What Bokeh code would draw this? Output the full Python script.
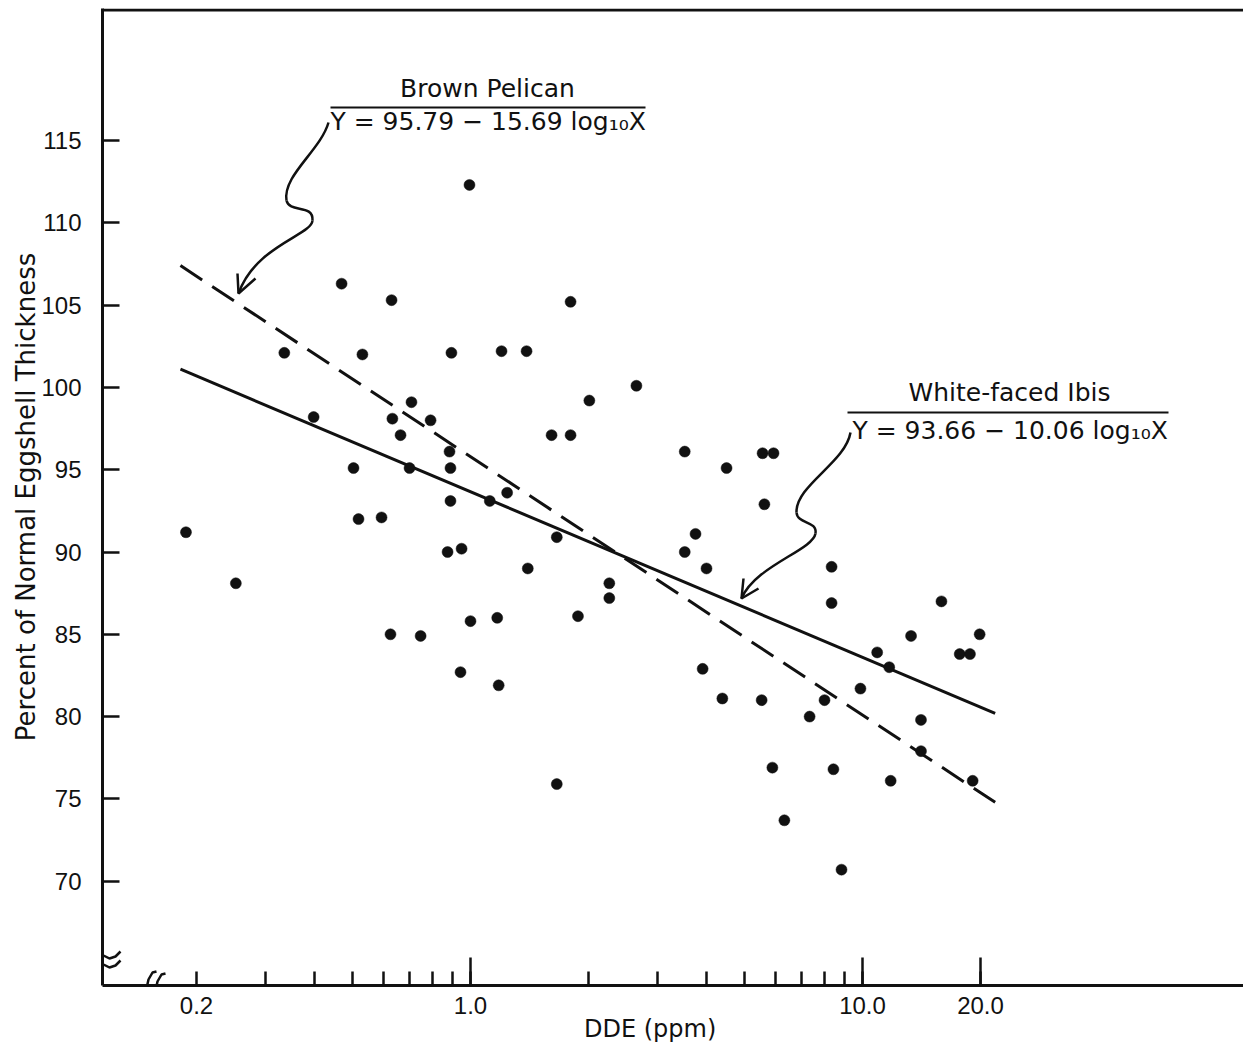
import numpy as np
from bokeh.plotting import figure
from bokeh.models import FixedTicker, Span, Label, PolyAnnotation, Range1d
from bokeh.embed import file_html
from bokeh.resources import INLINE

# ---------------- data ----------------
dde_ppm = [0.188, 0.252, 0.335, 0.398, 0.469, 0.503, 0.518, 0.530, 0.593, 0.625,
           0.629, 0.632, 0.663, 0.707, 0.699, 0.746, 0.791, 0.874, 0.884, 0.894,
           0.889, 0.889, 0.949, 0.943, 0.994, 1.00, 1.12, 1.17, 1.18, 1.20,
           1.24, 1.39, 1.40, 1.61, 1.66, 1.66, 1.80, 1.80, 1.88, 2.01,
           2.26, 2.26, 2.65, 3.52, 3.52, 3.75, 3.91, 4.00, 4.39, 4.50,
           5.53, 5.56, 5.93, 5.62, 5.89, 6.32, 7.33, 8.00, 8.34, 8.34,
           8.43, 8.84, 9.88, 10.9, 11.7, 11.8, 13.3, 14.1, 14.1, 15.9,
           17.7, 18.8, 19.1, 19.9]
eggshell_pct = [91.2, 88.1, 102.1, 98.2, 106.3, 95.1, 92.0, 102.0, 92.1, 85.0,
                105.3, 98.1, 97.1, 99.1, 95.1, 84.9, 98.0, 90.0, 96.1, 102.1,
                95.1, 93.1, 90.2, 82.7, 112.3, 85.8, 93.1, 86.0, 81.9, 102.2,
                93.6, 102.2, 89.0, 97.1, 90.9, 75.9, 105.2, 97.1, 86.1, 99.2,
                88.1, 87.2, 100.1, 96.1, 90.0, 91.1, 82.9, 89.0, 81.1, 95.1,
                81.0, 96.0, 96.0, 92.9, 76.9, 73.7, 80.0, 81.0, 89.1, 86.9,
                76.8, 70.7, 81.7, 83.9, 83.0, 76.1, 84.9, 79.8, 77.9, 87.0,
                83.8, 83.8, 76.1, 85.0]

# regression equations printed on the chart: Y = a - b log10 X
pelican_a, pelican_b = 95.79, 15.69
ibis_a, ibis_b = 93.66, 10.06
fit_x = [0.182, 21.8]

x_ticks = [0.2, 1.0, 10.0, 20.0]
x_tick_labels = ["0.2", "1.0", "10.0", "20.0"]
x_minor_ticks = [0.3, 0.4, 0.5, 0.6, 0.7, 0.8, 0.9, 2, 3, 4, 5, 6, 7, 8, 9]
x_long_ticks = [1.0, 10.0, 20.0]
y_ticks = [70, 75, 80, 85, 90, 95, 100, 105, 110, 115]

INK = "#111111"
TXT_FONT = "DejaVu Sans"
NUM_FONT = "Liberation Sans"

# calibration of the page (page pixels -> data), used only for decorations
def xv(px):
    return 10 ** ((px - 470) / 392)

def yv(py):
    return 115 - (py - 140) / 16.46

W, H = 1243, 1046
p = figure(width=W, height=H, x_axis_type="log",
           x_range=Range1d(xv(102), xv(1243)), y_range=Range1d(yv(985), yv(8)),
           output_backend="svg", toolbar_location=None,
           min_border_left=102, min_border_right=0, min_border_top=8, min_border_bottom=61)
p.outline_line_color = None
p.grid.visible = False
p.background_fill_color = "white"
p.border_fill_color = "white"

# ---------------- axes ----------------
xa = p.xaxis[0]
xa.ticker = FixedTicker(ticks=x_ticks, minor_ticks=x_minor_ticks)
xa.major_label_overrides = {t: s for t, s in zip(x_ticks, x_tick_labels)}
xa.axis_line_width = 3
xa.axis_line_color = INK
xa.major_tick_in = 14
xa.major_tick_out = 0
xa.minor_tick_in = 14
xa.minor_tick_out = 0
xa.major_tick_line_width = 2.5
xa.minor_tick_line_width = 2.5
xa.major_tick_line_color = INK
xa.minor_tick_line_color = INK
xa.major_label_text_font = NUM_FONT
xa.major_label_text_font_size = "24px"
xa.major_label_text_color = INK
xa.major_label_standoff = 11
# trailing no-break spaces move the centred title left, as in the reference
xa.axis_label = "DDE (ppm)" + "\u00a0" * 6
xa.axis_label_text_font = TXT_FONT
xa.axis_label_text_font_size = "24px"
xa.axis_label_text_font_style = "normal"
xa.axis_label_text_color = INK
xa.axis_label_standoff = -2

ya = p.yaxis[0]
ya.ticker = FixedTicker(ticks=y_ticks, minor_ticks=[])
ya.axis_line_width = 3
ya.axis_line_color = INK
ya.major_tick_in = 17
ya.major_tick_out = 0
ya.major_tick_line_width = 2.5
ya.major_tick_line_color = INK
ya.minor_tick_line_color = None
ya.major_label_text_font = NUM_FONT
ya.major_label_text_font_size = "24px"
ya.major_label_text_color = INK
ya.major_label_standoff = 21
ya.axis_label = "Percent of Normal Eggshell Thickness"
ya.axis_label_text_font = TXT_FONT
ya.axis_label_text_font_size = "26px"
ya.axis_label_text_font_style = "normal"
ya.axis_label_text_color = INK
ya.axis_label_standoff = -3

# long ticks at 1, 10, 20
p.segment(x0=x_long_ticks, x1=x_long_ticks,
          y0=[yv(985)] * len(x_long_ticks), y1=[yv(957)] * len(x_long_ticks),
          line_color=INK, line_width=2.5)

# top border of the frame
p.add_layout(Span(location=yv(9.5), dimension="width", line_color=INK, line_width=3))

# ---------------- regression lines ----------------
fx = np.array(fit_x)
p.line(fx, pelican_a - pelican_b * np.log10(fx), line_color=INK, line_width=3,
       line_dash="26 12")
p.line(fx, ibis_a - ibis_b * np.log10(fx), line_color=INK, line_width=3)

# ---------------- points ----------------
p.scatter(dde_ppm, eggshell_pct, size=11, fill_color=INK, line_color=INK, line_width=0.5)

# ---------------- annotations ----------------
def label(txt, px, py, align, size):
    p.add_layout(Label(x=xv(px), y=yv(py), text=txt, text_align=align,
                       text_baseline="alphabetic", text_font=TXT_FONT,
                       text_font_size=size, text_color=INK))

label("Brown Pelican", 487, 88, "center", "25px")
label("Y = 95.79 \u2212 15.69 log\u2081\u2080X", 330, 121, "left", "25px")
label("White-faced Ibis", 1009, 392, "center", "25px")
label("Y = 93.66 \u2212 10.06 log\u2081\u2080X", 852, 430, "left", "25px")

# fraction bars above the equations
p.segment(x0=[xv(330), xv(847)], x1=[xv(645), xv(1168)],
          y0=[yv(107), yv(412)], y1=[yv(107), yv(412)], line_color=INK, line_width=2)

# wavy arrows (cubic Bezier pieces)
arrows = [
    [((328, 122), (320, 150), (282, 175), (286, 200)),
     ((286, 200), (289, 213), (313, 203), (312, 220)),
     ((312, 220), (311, 235), (255, 245), (238, 293))],
    [((850, 432), (845, 462), (795, 485), (796, 512)),
     ((796, 512), (797, 524), (817, 520), (815, 533)),
     ((815, 533), (812, 550), (755, 565), (741, 598))],
]
for segs in arrows:
    p.bezier(x0=[xv(s[0][0]) for s in segs], y0=[yv(s[0][1]) for s in segs],
             cx0=[xv(s[1][0]) for s in segs], cy0=[yv(s[1][1]) for s in segs],
             cx1=[xv(s[2][0]) for s in segs], cy1=[yv(s[2][1]) for s in segs],
             x1=[xv(s[3][0]) for s in segs], y1=[yv(s[3][1]) for s in segs],
             line_color=INK, line_width=2.5)

heads = [((238, 293), (237, 273), (255, 278)), ((741, 598), (743, 578), (758, 588))]
p.multi_line(xs=[[xv(h[1][0]), xv(h[0][0]), xv(h[2][0])] for h in heads],
             ys=[[yv(h[1][1]), yv(h[0][1]), yv(h[2][1])] for h in heads],
             line_color=INK, line_width=2.5)

# axis break marks (only the part inside the frame is visible)
def stroke(pts):
    pts = pts + pts[::-1]
    p.add_layout(PolyAnnotation(xs=[xv(a) for a, b in pts], ys=[yv(b) for a, b in pts],
                                fill_color=None, line_color=INK, line_alpha=1.0,
                                line_width=2.5))

wave = [(84, 957), (90, 952), (97, 951), (103, 955), (109, 958), (115, 956), (120, 951)]
stroke(wave)
stroke([(a, b + 9) for a, b in wave])
ess = [(136, 1000), (140, 1002), (144, 997), (146, 988), (148, 979), (152, 972), (156, 971)]
stroke(ess)
stroke([(a + 9, b + 2) for a, b in ess])

open("out.html", "w").write(file_html(p, INLINE))
